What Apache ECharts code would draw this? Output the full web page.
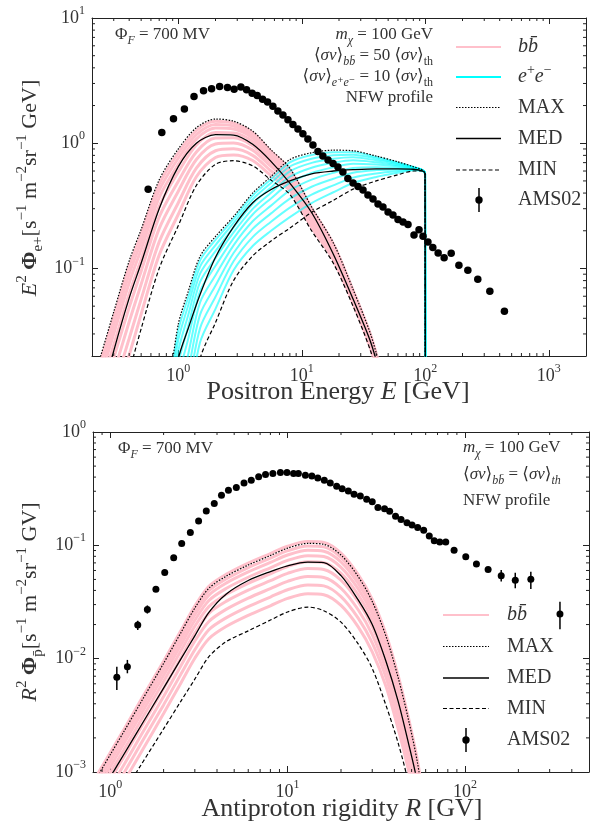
<!DOCTYPE html>
<html>
<head>
<meta charset="utf-8">
<script src="https://cdn.jsdelivr.net/npm/echarts@6/dist/echarts.min.js"></script>
<style>
html, body { margin: 0; padding: 0; background: #fff; }
#chart { width: 592px; height: 825px; }
</style>
</head>
<body>
<div id="chart"></div>
<script>
// ---------- top panel : positrons ----------
// AMS02 positron flux (E in GeV, E^2 Phi)
var posAmsE = [0.57, 0.735, 0.914, 1.12, 1.34, 1.60, 1.86, 2.16, 2.50, 2.83, 3.21, 3.57, 3.96, 4.35, 4.81, 5.28, 5.83, 6.40, 7.03, 7.72, 8.47, 9.30, 10.2, 11.2, 12.3, 13.5, 14.8, 16.3, 17.9, 19.6, 21.5, 23.6, 26.0, 28.5, 31.3, 34.3, 37.7, 41.4, 45.4, 49.9, 54.7, 60.1, 66.0, 72.4, 81.0, 88.9, 95.8, 105, 115, 127, 142, 162, 187, 221, 266, 333, 437];
var posAmsFlux = [0.43, 1.22, 1.565, 1.88, 2.36, 2.62, 2.72, 2.84, 2.79, 2.70, 2.81, 2.67, 2.51, 2.40, 2.25, 2.13, 1.97, 1.81, 1.68, 1.54, 1.41, 1.30, 1.19, 1.08, 0.969, 0.86, 0.79, 0.735, 0.69, 0.646, 0.589, 0.523, 0.481, 0.451, 0.423, 0.386, 0.358, 0.327, 0.309, 0.282, 0.267, 0.246, 0.235, 0.224, 0.185, 0.204, 0.181, 0.163, 0.147, 0.133, 0.122, 0.132, 0.106, 0.0969, 0.0821, 0.0658, 0.0455];

// b bbar channel
var bbE = [0.22, 0.3, 0.4, 0.5, 0.7, 1, 1.4, 2, 2.8, 4, 5.6, 8, 12, 18, 26, 36, 44];
var bbMax = [0.016, 0.045, 0.115, 0.205, 0.51, 0.9, 1.33, 1.56, 1.5, 1.25, 0.89, 0.63, 0.31, 0.16, 0.068, 0.03, 0.015];
var bbMed = [0.007, 0.022, 0.058, 0.11, 0.3, 0.65, 1.0, 1.17, 1.16, 0.98, 0.72, 0.48, 0.28, 0.13, 0.057, 0.026, 0.013];
var bbMin = [0.0025, 0.006, 0.015, 0.033, 0.1, 0.22, 0.46, 0.68, 0.725, 0.66, 0.51, 0.39, 0.2, 0.11, 0.05, 0.022, 0.011];
var bbLine1 = [0.0146, 0.0406, 0.104, 0.187, 0.471, 0.838, 1.262, 1.496, 1.445, 1.211, 0.865, 0.615, 0.303, 0.157, 0.067, 0.0295, 0.0148];
var bbLine2 = [0.0128, 0.0353, 0.0902, 0.164, 0.42, 0.759, 1.172, 1.413, 1.374, 1.159, 0.832, 0.594, 0.294, 0.153, 0.0656, 0.0289, 0.0145];
var bbLine3 = [0.011, 0.0301, 0.0766, 0.142, 0.368, 0.678, 1.077, 1.321, 1.297, 1.102, 0.796, 0.571, 0.284, 0.149, 0.064, 0.0282, 0.0141];
var bbLine4 = [0.0092, 0.0245, 0.0624, 0.118, 0.313, 0.589, 0.968, 1.216, 1.205, 1.033, 0.752, 0.546, 0.272, 0.143, 0.0621, 0.0273, 0.0136];
var bbLine5 = [0.0073, 0.0193, 0.0489, 0.095, 0.258, 0.498, 0.851, 1.099, 1.104, 0.957, 0.703, 0.515, 0.258, 0.137, 0.0598, 0.0263, 0.0132];
var bbLine6 = [0.0058, 0.0148, 0.0375, 0.0748, 0.208, 0.414, 0.741, 0.986, 1.005, 0.881, 0.655, 0.484, 0.243, 0.13, 0.0574, 0.0253, 0.0126];
var bbLine7 = [0.0044, 0.011, 0.0276, 0.0569, 0.163, 0.335, 0.632, 0.871, 0.902, 0.8, 0.603, 0.45, 0.228, 0.123, 0.0548, 0.0241, 0.012];
var bbLine8 = [0.0033, 0.0081, 0.0203, 0.0432, 0.128, 0.271, 0.54, 0.769, 0.807, 0.728, 0.553, 0.419, 0.213, 0.117, 0.0524, 0.023, 0.0115];

// e+e- channel
var eeE = [0.85, 1, 1.2, 1.5, 2, 2.8, 4, 5.6, 8, 12, 18, 26, 40, 60, 80, 95, 99.5, 100];
var eeMax = [0.012, 0.036, 0.065, 0.125, 0.18, 0.26, 0.40, 0.54, 0.74, 0.84, 0.88, 0.87, 0.79, 0.71, 0.65, 0.61, 0.57, 0.001];
var eeMed = [0.006, 0.019, 0.033, 0.062, 0.123, 0.215, 0.335, 0.425, 0.5, 0.57, 0.6, 0.615, 0.625, 0.625, 0.62, 0.6, 0.57, 0.001];
var eeMin = [0.0008, 0.002, 0.005, 0.019, 0.037, 0.08, 0.126, 0.165, 0.21, 0.28, 0.35, 0.43, 0.5, 0.56, 0.6, 0.6, 0.57, 0.001];
var eeLine1 = [0.0108, 0.0321, 0.0586, 0.116, 0.169, 0.248, 0.382, 0.514, 0.703, 0.804, 0.847, 0.847, 0.776, 0.703, 0.648, 0.61, 0.57, 0.001];
var eeLine2 = [0.0091, 0.0269, 0.0504, 0.1035, 0.1535, 0.231, 0.356, 0.479, 0.652, 0.752, 0.802, 0.811, 0.755, 0.693, 0.644, 0.61, 0.57, 0.001];
var eeLine3 = [0.0076, 0.022, 0.0421, 0.0908, 0.1374, 0.213, 0.329, 0.441, 0.597, 0.697, 0.752, 0.773, 0.731, 0.681, 0.641, 0.609, 0.57, 0.001];
var eeLine4 = [0.0061, 0.0175, 0.0342, 0.078, 0.121, 0.194, 0.299, 0.401, 0.54, 0.638, 0.698, 0.73, 0.705, 0.668, 0.637, 0.608, 0.57, 0.001];
var eeLine5 = [0.0048, 0.0135, 0.0272, 0.0659, 0.105, 0.174, 0.27, 0.361, 0.482, 0.578, 0.643, 0.686, 0.676, 0.655, 0.632, 0.607, 0.57, 0.001];
var eeLine6 = [0.0035, 0.0098, 0.0205, 0.0536, 0.0883, 0.153, 0.238, 0.316, 0.42, 0.512, 0.581, 0.634, 0.643, 0.638, 0.627, 0.606, 0.57, 0.001];
var eeLine7 = [0.0026, 0.0069, 0.0151, 0.0428, 0.073, 0.133, 0.207, 0.274, 0.361, 0.449, 0.52, 0.582, 0.61, 0.619, 0.621, 0.604, 0.57, 0.001];
var eeLine8 = [0.0018, 0.0048, 0.0108, 0.0334, 0.0594, 0.114, 0.178, 0.235, 0.306, 0.389, 0.461, 0.531, 0.574, 0.601, 0.614, 0.603, 0.57, 0.001];
var eeLine9 = [0.0012, 0.0032, 0.0075, 0.0257, 0.0476, 0.0966, 0.151, 0.199, 0.257, 0.333, 0.406, 0.481, 0.538, 0.581, 0.608, 0.601, 0.57, 0.001];

// ---------- bottom panel : antiprotons ----------
var pbarR = [1.09, 1.25, 1.43, 1.62, 1.81, 2.03, 2.28, 2.53, 2.83, 3.15, 3.48, 3.86, 4.24, 4.64, 5.14, 5.68, 6.24, 6.87, 7.51, 8.26, 9.11, 9.92, 10.8, 11.5, 12.6, 13.7, 14.8, 16.1, 17.4, 18.9, 20.3, 22.0, 23.7, 25.7, 27.9, 30.0, 32.3, 35.2, 37.6, 40.6, 43.6, 47.1, 50.3, 54.1, 58.5, 62.9, 67.1, 72.1, 77.9, 86.8, 101, 116, 135, 160, 192, 235, 343];
var pbarFlux = [0.00686, 0.0085, 0.0198, 0.0272, 0.0409, 0.0577, 0.0776, 0.104, 0.13, 0.164, 0.201, 0.234, 0.277, 0.306, 0.324, 0.355, 0.375, 0.402, 0.422, 0.43, 0.439, 0.439, 0.43, 0.43, 0.416, 0.41, 0.393, 0.375, 0.355, 0.332, 0.315, 0.302, 0.283, 0.273, 0.255, 0.242, 0.216, 0.21, 0.2, 0.181, 0.169, 0.158, 0.151, 0.144, 0.136, 0.121, 0.11, 0.107, 0.107, 0.0907, 0.0792, 0.0683, 0.0613, 0.0539, 0.0493, 0.0501, 0.0248];
var pbarErrR = [1.09, 1.25, 1.43, 1.62, 160, 192, 235, 343];
var pbarErrLo = [0.0053, 0.00743, 0.0179, 0.025, 0.048, 0.0418, 0.0412, 0.0182];
var pbarErrHi = [0.0085, 0.00975, 0.0216, 0.0295, 0.0606, 0.0573, 0.0585, 0.0318];

var pR = [0.85, 1, 1.2, 1.5, 2, 2.5, 3, 3.6, 4.5, 6, 8, 10, 13, 16, 20, 25, 30, 36, 42, 48, 54, 60];
var pMax = [0.00092, 0.00142, 0.0023, 0.0042, 0.0091, 0.0169, 0.028, 0.0418, 0.0533, 0.067, 0.0813, 0.0944, 0.104, 0.102, 0.082, 0.053, 0.032, 0.0155, 0.0068, 0.0029, 0.0012, 0.0004];
var pMed = [0.00059, 0.0009, 0.00145, 0.0026, 0.0055, 0.0099, 0.0159, 0.0256, 0.0371, 0.0489, 0.0587, 0.066, 0.071, 0.0705, 0.054, 0.033, 0.02, 0.0093, 0.0042, 0.0018, 0.0008, 0.0003];
var pMin = [0.00028, 0.00042, 0.00067, 0.00117, 0.0024, 0.0042, 0.0066, 0.0104, 0.0141, 0.0176, 0.0219, 0.0258, 0.0285, 0.0265, 0.021, 0.0135, 0.0082, 0.0038, 0.0018, 0.0008, 0.0003, 0.0001];
var pLine1 = [0.00096, 0.00148, 0.0024, 0.0044, 0.0095, 0.0176, 0.0291, 0.0435, 0.0554, 0.0697, 0.0846, 0.0982, 0.108, 0.106, 0.0853, 0.0551, 0.0333, 0.0161, 0.0071, 0.003, 0.00125, 0.00042];
var pLine2 = [0.00087, 0.00135, 0.00219, 0.004, 0.00865, 0.0161, 0.0266, 0.0397, 0.0506, 0.0637, 0.0772, 0.0897, 0.0988, 0.0969, 0.0779, 0.0504, 0.0304, 0.0147, 0.0065, 0.00276, 0.00114, 0.00038];
var pLine3 = [0.0008, 0.00124, 0.002, 0.00365, 0.00792, 0.0147, 0.0244, 0.0364, 0.0464, 0.0583, 0.0707, 0.0821, 0.0905, 0.0887, 0.0713, 0.0461, 0.0278, 0.0135, 0.0059, 0.00252, 0.00104, 0.00035];
var pLine4 = [0.00072, 0.00111, 0.0018, 0.00328, 0.0071, 0.0132, 0.0218, 0.0326, 0.0416, 0.0523, 0.0634, 0.0736, 0.0811, 0.0796, 0.064, 0.0413, 0.025, 0.0121, 0.0053, 0.00226, 0.00094, 0.00031];
var pLine5 = [0.00063, 0.00098, 0.00159, 0.0029, 0.00628, 0.0117, 0.0193, 0.0288, 0.0368, 0.0462, 0.0561, 0.0651, 0.0718, 0.0704, 0.0566, 0.0366, 0.0221, 0.0107, 0.0047, 0.002, 0.00083, 0.00028];
var pLine6 = [0.00055, 0.00085, 0.00138, 0.00252, 0.00546, 0.0101, 0.0168, 0.0251, 0.032, 0.0402, 0.0488, 0.0566, 0.0624, 0.0612, 0.0492, 0.0318, 0.0192, 0.0093, 0.0041, 0.00174, 0.00072, 0.00024];
var pLine7 = [0.00047, 0.00072, 0.00117, 0.00214, 0.00464, 0.0086, 0.0143, 0.0213, 0.0272, 0.0342, 0.0415, 0.0481, 0.053, 0.052, 0.0418, 0.027, 0.0163, 0.0079, 0.0035, 0.00148, 0.00061, 0.0002];
var pLine8 = [0.0004, 0.00061, 0.00099, 0.00181, 0.00391, 0.00727, 0.012, 0.018, 0.0229, 0.0288, 0.035, 0.0406, 0.0447, 0.0439, 0.0353, 0.0228, 0.0138, 0.0067, 0.0029, 0.00125, 0.00052, 0.00017];
var pLine9 = [0.00033, 0.00051, 0.00083, 0.00151, 0.00328, 0.00608, 0.0101, 0.015, 0.0192, 0.0241, 0.0293, 0.034, 0.0374, 0.0367, 0.0295, 0.0191, 0.0115, 0.0056, 0.0024, 0.00104, 0.00043, 0.00014];

// minor tick positions
var topXMinor = [0.3, 0.4, 0.5, 0.6, 0.7, 0.8, 0.9, 2, 3, 4, 5, 6, 7, 8, 9, 20, 30, 40, 50, 60, 70, 80, 90, 200, 300, 400, 500, 600, 700, 800, 900];
var topYMinor = [0.03, 0.04, 0.05, 0.06, 0.07, 0.08, 0.09, 0.2, 0.3, 0.4, 0.5, 0.6, 0.7, 0.8, 0.9, 2, 3, 4, 5, 6, 7, 8, 9];
var botXMinor = [0.9, 2, 3, 4, 5, 6, 7, 8, 9, 20, 30, 40, 50, 60, 70, 80, 90, 200, 300, 400];
var botYMinor = [0.002, 0.003, 0.004, 0.005, 0.006, 0.007, 0.008, 0.009, 0.02, 0.03, 0.04, 0.05, 0.06, 0.07, 0.08, 0.09, 0.2, 0.3, 0.4, 0.5, 0.6, 0.7, 0.8, 0.9];

var F = '"Liberation Serif", "DejaVu Serif", serif';
var TXT = '#333';
var AX = '#222';
var PINK = '#ffc0cb';
var CYAN = 'rgba(0,255,255,0.6)';

function pairs(xs, ys) {
    var out = [];
    for (var i = 0; i < xs.length; i++) out.push([xs[i], ys[i]]);
    return out;
}

function powLabel(v) {
    var l = Math.log10(v);
    var e = Math.round(l);
    if (Math.abs(l - e) > 1e-6) return '';
    return '{b|10}{s|' + (e < 0 ? '\u2212' + (-e) : e) + '}';
}

var tickRich = {
    b: { fontSize: 18, fontFamily: F, color: TXT, lineHeight: 26 },
    s: { fontSize: 12, fontFamily: F, color: TXT, verticalAlign: 'top', lineHeight: 14 }
};

function logAxis(grid, pos, min, max, labels) {
    return {
        type: 'log', logBase: 10, gridIndex: grid, position: pos, min: min, max: max,
        axisLine: { show: true, onZero: false, lineStyle: { color: AX, width: 1 } },
        axisTick: { show: true, inside: true, length: 6, lineStyle: { color: AX, width: 1 } },
        axisLabel: { show: labels, formatter: powLabel, margin: 7, rich: tickRich },
        splitLine: { show: false }
    };
}

function curve(xi, xs, ys, color, width, type, z) {
    return {
        type: 'line', xAxisIndex: xi, yAxisIndex: xi, data: pairs(xs, ys),
        symbol: 'none', smooth: 0.3, silent: true, z: z,
        lineStyle: { color: color, width: width, type: type, opacity: 1 }
    };
}

function minorX(xi, vals, yLo, yHi) {
    return {
        type: 'custom', xAxisIndex: xi, yAxisIndex: xi, silent: true, z: 10,
        data: vals.map(function (v) { return [v, yLo]; }),
        renderItem: function (params, api) {
            var a = api.coord([api.value(0), yLo]);
            var b = api.coord([api.value(0), yHi]);
            return { type: 'group', children: [
                { type: 'line', shape: { x1: a[0], y1: a[1], x2: a[0], y2: a[1] - 3 }, style: { stroke: AX, lineWidth: 1 } },
                { type: 'line', shape: { x1: b[0], y1: b[1], x2: b[0], y2: b[1] + 3 }, style: { stroke: AX, lineWidth: 1 } }
            ] };
        }
    };
}

function minorY(yi, vals, xLo, xHi) {
    return {
        type: 'custom', xAxisIndex: yi, yAxisIndex: yi, silent: true, z: 10,
        data: vals.map(function (v) { return [xLo, v]; }),
        renderItem: function (params, api) {
            var a = api.coord([xLo, api.value(1)]);
            var b = api.coord([xHi, api.value(1)]);
            return { type: 'group', children: [
                { type: 'line', shape: { x1: a[0], y1: a[1], x2: a[0] + 3, y2: a[1] }, style: { stroke: AX, lineWidth: 1 } },
                { type: 'line', shape: { x1: b[0], y1: b[1], x2: b[0] - 3, y2: b[1] }, style: { stroke: AX, lineWidth: 1 } }
            ] };
        }
    };
}

function rich(size) {
    var s = Math.round(size * 0.68);
    var lh = Math.round(size * 1.4);
    return {
        t: { fontSize: size, fontFamily: F, fill: TXT, lineHeight: lh },
        i: { fontSize: size, fontFamily: F, fontStyle: 'italic', fill: TXT, lineHeight: lh },
        bf: { fontSize: size, fontFamily: F, fontWeight: 'bold', fill: TXT, lineHeight: lh },
        sup: { fontSize: s, fontFamily: F, fill: TXT, verticalAlign: 'top', lineHeight: s + 2 },
        sub: { fontSize: s, fontFamily: F, fill: TXT, verticalAlign: 'bottom', lineHeight: s + 2 },
        subi: { fontSize: s, fontFamily: F, fontStyle: 'italic', fill: TXT, verticalAlign: 'bottom', lineHeight: s + 2 }
    };
}

function label(x, y, text, size, align, rot) {
    return {
        type: 'text', x: x, y: y, rotation: rot || 0, silent: true, z: 20,
        style: { text: text, rich: rich(size), align: align, verticalAlign: 'middle', fill: TXT, fontSize: size, fontFamily: F }
    };
}

function legLine(x1, x2, y, color, width, dash) {
    return {
        type: 'line', silent: true, z: 20,
        shape: { x1: x1, y1: y, x2: x2, y2: y },
        style: { stroke: color, lineWidth: width, lineDash: dash || null }
    };
}

function legMarker(x, y) {
    return [
        { type: 'line', silent: true, z: 20, shape: { x1: x, y1: y - 12, x2: x, y2: y + 12 }, style: { stroke: '#000', lineWidth: 1.5 } },
        { type: 'circle', silent: true, z: 21, shape: { cx: x, cy: y, r: 3.7 }, style: { fill: '#000' } }
    ];
}

var series = [];
// top panel
[bbLine8, bbLine7, bbLine6, bbLine5, bbLine4, bbLine3, bbLine2, bbLine1].forEach(function (ys) {
    series.push(curve(0, bbE, ys, PINK, 3, 'solid', 2));
});
[eeLine9, eeLine8, eeLine7, eeLine6, eeLine5, eeLine4, eeLine3, eeLine2, eeLine1].forEach(function (ys) {
    series.push(curve(0, eeE, ys, CYAN, 2, 'solid', 3));
});
series.push(curve(0, bbE, bbMax, '#000', 1.2, [1.5, 1.5], 4));
series.push(curve(0, bbE, bbMed, '#000', 1.3, 'solid', 4));
series.push(curve(0, bbE, bbMin, '#000', 1.2, [4, 2.5], 4));
series.push(curve(0, eeE, eeMax, '#000', 1.2, [1.5, 1.5], 4));
series.push(curve(0, eeE, eeMed, '#000', 1.3, 'solid', 4));
series.push(curve(0, eeE, eeMin, '#000', 1.2, [4, 2.5], 4));
series.push({
    type: 'scatter', xAxisIndex: 0, yAxisIndex: 0, data: pairs(posAmsE, posAmsFlux),
    symbol: 'circle', symbolSize: 7.5, itemStyle: { color: '#000', opacity: 1 }, silent: true, z: 5
});
series.push(minorX(0, topXMinor, 0.02, 10));
series.push(minorY(0, topYMinor, 0.2, 2000));

// bottom panel
[pLine9, pLine8, pLine7, pLine6, pLine5, pLine4, pLine3, pLine2, pLine1].forEach(function (ys) {
    series.push(curve(2, pR, ys, PINK, 3, 'solid', 2));
});
series.push(curve(2, pR, pMax, '#000', 1.2, [1.5, 1.5], 4));
series.push(curve(2, pR, pMed, '#000', 1.3, 'solid', 4));
series.push(curve(2, pR, pMin, '#000', 1.2, [4, 2.5], 4));
series.push({
    type: 'custom', xAxisIndex: 2, yAxisIndex: 2, silent: true, z: 5,
    data: pbarErrR.map(function (r, i) { return [r, pbarErrLo[i], pbarErrHi[i]]; }),
    encode: { x: 0, y: [1, 2] },
    renderItem: function (params, api) {
        var lo = api.coord([api.value(0), api.value(1)]);
        var hi = api.coord([api.value(0), api.value(2)]);
        return { type: 'line', shape: { x1: lo[0], y1: lo[1], x2: hi[0], y2: hi[1] }, style: { stroke: '#000', lineWidth: 1.5 } };
    }
});
series.push({
    type: 'scatter', xAxisIndex: 2, yAxisIndex: 2, data: pairs(pbarR, pbarFlux),
    symbol: 'circle', symbolSize: 7, itemStyle: { color: '#000', opacity: 1 }, silent: true, z: 6
});
series.push(minorX(2, botXMinor, 0.001, 1));
series.push(minorY(2, botYMinor, 0.8, 500));

var graphics = [
    // axis titles
    label(30, 188, '{i|E}{sup|2}{t| }{bf|Φ}{sub|e+}{t|[s}{sup|\u22121}{t| m}{sup|\u22122}{t|sr}{sup|\u22121}{t| GeV]}', 22, 'center', Math.PI / 2),
    label(338, 392, '{t|Positron Energy }{i|E}{t| [GeV]}', 26, 'center'),
    label(30, 602, '{i|R}{sup|2}{t| }{bf|Φ}{sub|p\u0304}{t|[s}{sup|\u22121}{t| m}{sup|\u22122}{t|sr}{sup|\u22121}{t| GV]}', 22, 'center', Math.PI / 2),
    label(342, 809, '{t|Antiproton rigidity }{i|R}{t| [GV]}', 26, 'center'),
    // annotations top
    label(115, 35, '{t|Φ}{subi|F}{t| = 700 MV}', 17, 'left'),
    label(433, 35, '{i|m}{subi|χ}{t| = 100 GeV}', 17, 'right'),
    label(433, 56, '{t|⟨}{i|σv}{t|⟩}{subi|bb\u0304}{t| = 50 ⟨}{i|σv}{t|⟩}{sub|th}', 17, 'right'),
    label(433, 77, '{t|⟨}{i|σv}{t|⟩}{subi|e⁺e⁻}{t| = 10 ⟨}{i|σv}{t|⟩}{sub|th}', 17, 'right'),
    label(433, 98, '{t|NFW profile}', 17, 'right'),
    // annotations bottom
    label(118, 449, '{t|Φ}{subi|F}{t| = 700 MV}', 17, 'left'),
    label(463, 448, '{i|m}{subi|χ}{t| = 100 GeV}', 17, 'left'),
    label(463, 475, '{t|⟨}{i|σv}{t|⟩}{subi|bb\u0304}{t| = ⟨}{i|σv}{t|⟩}{subi|th}', 17, 'left'),
    label(463, 501, '{t|NFW profile}', 17, 'left'),
    // legend top
    legLine(456, 501, 47, PINK, 2),
    label(518, 47, '{i|bb\u0304}', 20, 'left'),
    legLine(456, 501, 77, '#00ffff', 2),
    label(518, 77, '{i|e}{sup|+}{i|e}{sup|\u2212}', 20, 'left'),
    legLine(456, 501, 107.5, '#000', 1.2, [1.5, 1.5]),
    label(518, 107.5, '{t|MAX}', 20, 'left'),
    legLine(456, 501, 138.5, '#000', 1.3),
    label(518, 138.5, '{t|MED}', 20, 'left'),
    legLine(456, 501, 170, '#000', 1.2, [4, 2.5]),
    label(518, 170, '{t|MIN}', 20, 'left'),
    label(518, 200, '{t|AMS02}', 20, 'left'),
    // legend bottom
    legLine(443, 489, 615, PINK, 2),
    label(507, 615, '{i|bb\u0304}', 20, 'left'),
    legLine(443, 489, 646.5, '#000', 1.2, [1.5, 1.5]),
    label(507, 646.5, '{t|MAX}', 20, 'left'),
    legLine(443, 489, 678, '#000', 1.3),
    label(507, 678, '{t|MED}', 20, 'left'),
    legLine(443, 489, 708.5, '#000', 1.2, [4, 2.5]),
    label(507, 708.5, '{t|MIN}', 20, 'left'),
    label(507, 740, '{t|AMS02}', 20, 'left')
].concat(legMarker(479, 200)).concat(legMarker(466, 740));

var option = {
    animation: false,
    backgroundColor: '#fff',
    grid: [
        { left: 92, top: 18, width: 494, height: 338 },
        { left: 93, top: 432, width: 498, height: 340 }
    ],
    xAxis: [
        logAxis(0, 'bottom', 0.2, 2000, true),
        logAxis(0, 'top', 0.2, 2000, false),
        logAxis(1, 'bottom', 0.8, 500, true),
        logAxis(1, 'top', 0.8, 500, false)
    ],
    yAxis: [
        logAxis(0, 'left', 0.02, 10, true),
        logAxis(0, 'right', 0.02, 10, false),
        logAxis(1, 'left', 0.001, 1, true),
        logAxis(1, 'right', 0.001, 1, false)
    ],
    series: series,
    graphic: { elements: graphics }
};

var myChart = echarts.init(document.getElementById('chart'));
myChart.setOption(option);
</script>
</body>
</html>
